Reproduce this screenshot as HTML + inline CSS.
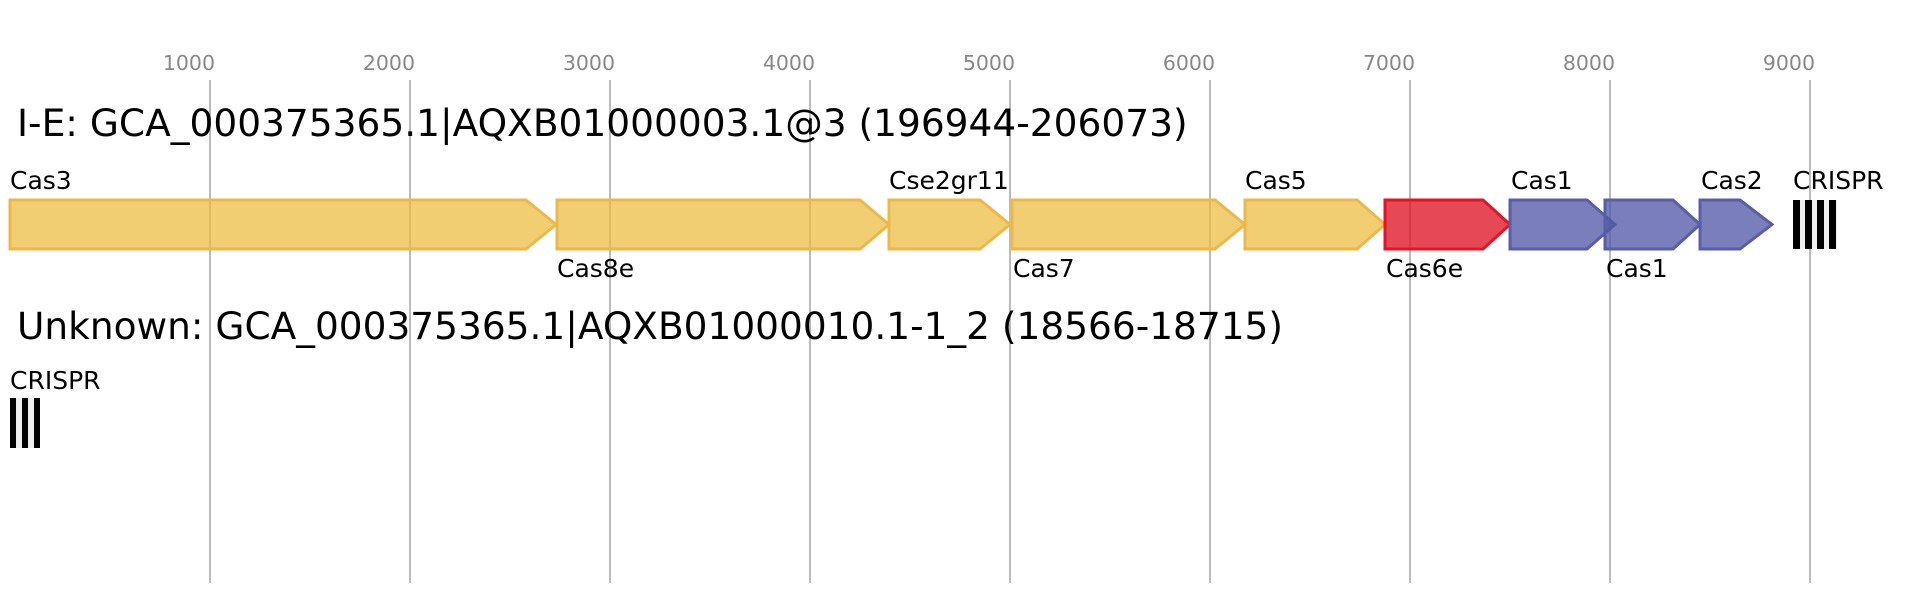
<!DOCTYPE html>
<html><head><meta charset="utf-8"><style>
html,body{margin:0;padding:0;background:#fff;}
svg{display:block;font-family:"DejaVu Sans","Liberation Sans",sans-serif;}
</style></head><body>
<svg width="1926" height="600" viewBox="0 0 1926 600" xmlns="http://www.w3.org/2000/svg">
<g stroke="#bbb" stroke-width="2">
<line x1="210" y1="80" x2="210" y2="583"/><line x1="410" y1="80" x2="410" y2="583"/>
<line x1="610" y1="80" x2="610" y2="583"/><line x1="810" y1="80" x2="810" y2="583"/>
<line x1="1010" y1="80" x2="1010" y2="583"/><line x1="1210" y1="80" x2="1210" y2="583"/>
<line x1="1410" y1="80" x2="1410" y2="583"/><line x1="1610" y1="80" x2="1610" y2="583"/>
<line x1="1810" y1="80" x2="1810" y2="583"/>
</g>
<g fill="#888" font-size="20.5" text-anchor="end">
<text x="215" y="70">1000</text><text x="415" y="70">2000</text><text x="615" y="70">3000</text>
<text x="815" y="70">4000</text><text x="1015" y="70">5000</text><text x="1215" y="70">6000</text>
<text x="1415" y="70">7000</text><text x="1615" y="70">8000</text><text x="1815" y="70">9000</text>
</g>
<text x="17" y="136" font-size="37.5" fill="#000">I-E: GCA_000375365.1|AQXB01000003.1@3 (196944-206073)</text>
<text x="17" y="339" font-size="37.5" fill="#000" textLength="1266" lengthAdjust="spacingAndGlyphs">Unknown: GCA_000375365.1|AQXB01000010.1-1_2 (18566-18715)</text>
<g stroke-width="3">
<g fill="rgba(236,185,56,0.7)" stroke="#edb84a">
<polygon points="10,200 526,200 556,224.5 526,249 10,249"/>
<polygon points="557,200 860,200 889,224.5 860,249 557,249"/>
<polygon points="889,200 980,200 1010,224.5 980,249 889,249"/>
<polygon points="1012,200 1215,200 1245,224.5 1215,249 1012,249"/>
<polygon points="1245,200 1357,200 1385,224.5 1357,249 1245,249"/>
</g>
<polygon fill="rgba(223,21,38,0.78)" stroke="#e01526" points="1385,200 1483,200 1510,224.5 1483,249 1385,249"/>
<g fill="rgba(82,87,165,0.77)" stroke="#5a5ea8">
<polygon points="1510,200 1587,200 1615,224.5 1587,249 1510,249"/>
<polygon points="1605,200 1673,200 1700,224.5 1673,249 1605,249"/>
<polygon points="1700,200 1740,200 1772,224.5 1740,249 1700,249"/>
</g>
</g>
<rect x="1793" y="200" width="44" height="49" fill="#eee"/>
<g fill="#000">
<rect x="1793" y="200" width="7" height="49"/><rect x="1805" y="200" width="7" height="49"/>
<rect x="1817" y="200" width="7" height="49"/><rect x="1829" y="200" width="7" height="49"/>
</g>
<rect x="10" y="398" width="30" height="50" fill="#eee"/>
<g fill="#000">
<rect x="10" y="398" width="6" height="50"/><rect x="22" y="398" width="6" height="50"/><rect x="34" y="398" width="6" height="50"/>
</g>
<g font-size="25" fill="#000">
<text x="10" y="189">Cas3</text>
<text x="889" y="189">Cse2gr11</text>
<text x="1245" y="189">Cas5</text>
<text x="1511" y="189">Cas1</text>
<text x="1701" y="189">Cas2</text>
<text x="1793" y="189">CRISPR</text>
<text x="557" y="277">Cas8e</text>
<text x="1013" y="277">Cas7</text>
<text x="1386" y="277">Cas6e</text>
<text x="1606" y="277">Cas1</text>
<text x="10" y="389">CRISPR</text>
</g>
</svg>
</body></html>
